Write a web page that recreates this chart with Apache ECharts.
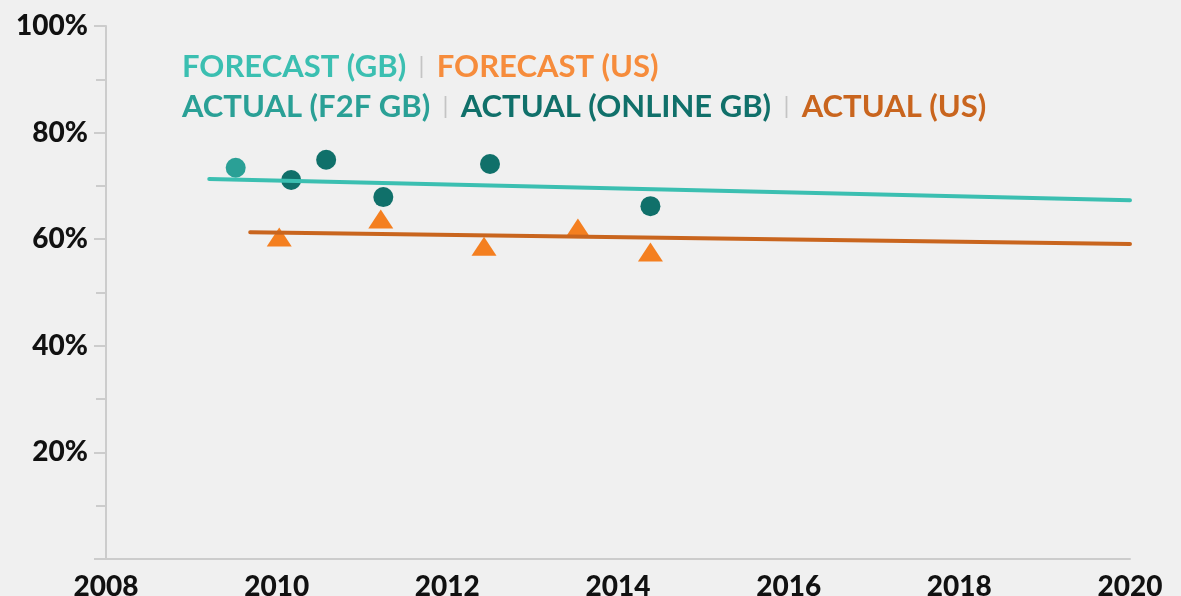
<!DOCTYPE html>
<html>
<head>
<meta charset="utf-8">
<script src="https://cdn.jsdelivr.net/npm/echarts@6/dist/echarts.min.js"></script>
<style>
  html, body { margin: 0; padding: 0; background: #f0f0f0; }
  #chart { width: 1181px; height: 596px; }
</style>
</head>
<body>
<div id="chart"></div>
<script>
// values: [year, percent]
const actualF2fGb = [[2009.52, 73.4]];
const actualOnlineGb = [[2010.17, 71.1], [2010.58, 74.9], [2011.25, 67.9], [2012.5, 74.1], [2014.38, 66.2]];
const actualUs = [[2010.03, 60.4], [2011.22, 63.8], [2012.43, 58.7], [2013.53, 62.1], [2014.38, 57.6]];
const forecastGb = [[2009.21, 71.3], [2020, 67.3]];
const forecastUs = [[2009.69, 61.3], [2020, 59.1]];

const yearTicks = [2008, 2010, 2012, 2014, 2016, 2018, 2020];

const colors = {
  forecastGb: '#3bbfb1',
  forecastUs: '#f68c3c',
  f2fGb: '#2aa096',
  onlineGb: '#10706a',
  actualUs: '#c9651e',
  triangle: '#f47f20',
  sep: '#c4c4c4'
};

const chart = echarts.init(document.getElementById('chart'));

const axisFont = { fontFamily: 'Lato', fontWeight: 900, fontSize: 28, color: '#111' };
const legendFont = { fontFamily: 'Lato', fontWeight: 'bold', fontSize: 31 };

chart.setOption({
  backgroundColor: '#f0f0f0',
  animation: false,
  grid: { left: 106, right: 51, top: 26, bottom: 37, containLabel: false, outerBoundsMode: 'none' },
  xAxis: {
    type: 'value',
    min: yearTicks[0],
    max: yearTicks[yearTicks.length - 1],
    interval: 2,
    splitLine: { show: false },
    axisTick: { show: false },
    axisLine: { lineStyle: { color: '#cccccc', width: 2 } },
    axisLabel: Object.assign({ margin: 14, formatter: v => String(v) }, axisFont)
  },
  yAxis: {
    type: 'value',
    min: 0,
    max: 100,
    interval: 20,
    splitLine: { show: false },
    axisLine: { show: true, lineStyle: { color: '#cccccc', width: 2 } },
    axisTick: { show: true, length: 12, lineStyle: { color: '#cccccc', width: 2 } },
    minorTick: { show: true, splitNumber: 2, length: 10, lineStyle: { color: '#cccccc', width: 2 } },
    axisLabel: Object.assign({ margin: 18, formatter: v => v === 0 ? '' : v + '%' }, axisFont)
  },
  graphic: [{
    type: 'text',
    left: 182,
    top: 51,
    style: {
      text: '{a|FORECAST (GB)}{s|  |  }{b|FORECAST (US)}\n{c|ACTUAL (F2F GB)}{s|  |  }{d|ACTUAL (ONLINE GB)}{s|  |  }{e|ACTUAL (US)}',
      rich: {
        a: Object.assign({ fill: colors.forecastGb, lineHeight: 40 }, legendFont),
        b: Object.assign({ fill: colors.forecastUs, lineHeight: 40 }, legendFont),
        c: Object.assign({ fill: colors.f2fGb, lineHeight: 40 }, legendFont),
        d: Object.assign({ fill: colors.onlineGb, lineHeight: 40 }, legendFont),
        e: Object.assign({ fill: colors.actualUs, lineHeight: 40 }, legendFont),
        s: Object.assign({ fill: colors.sep, lineHeight: 40 }, legendFont, { fontWeight: 'normal', fontSize: 24 })
      }
    }
  }],
  series: [
    {
      name: 'Forecast (GB)', type: 'line', data: forecastGb, showSymbol: false,
      lineStyle: { color: colors.forecastGb, width: 4, cap: 'round' }
    },
    {
      name: 'Forecast (US)', type: 'line', data: forecastUs, showSymbol: false,
      lineStyle: { color: colors.actualUs, width: 4, cap: 'round' }
    },
    {
      name: 'Actual (F2F GB)', type: 'scatter', data: actualF2fGb, symbol: 'circle', symbolSize: 20,
      itemStyle: { color: colors.f2fGb, opacity: 1 }
    },
    {
      name: 'Actual (Online GB)', type: 'scatter', data: actualOnlineGb, symbol: 'circle', symbolSize: 20,
      itemStyle: { color: colors.onlineGb, opacity: 1 }
    },
    {
      name: 'Actual (US)', type: 'scatter', data: actualUs, symbol: 'triangle', symbolSize: [25, 19],
      itemStyle: { color: colors.triangle, opacity: 1 }
    }
  ]
});
</script>
</body>
</html>
